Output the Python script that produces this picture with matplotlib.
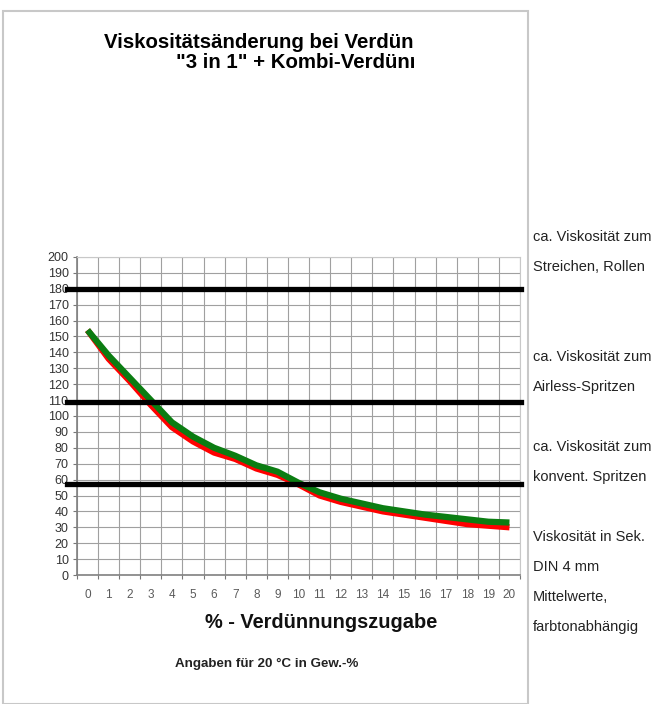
import numpy as np
import matplotlib
matplotlib.use('Agg')
import matplotlib.pyplot as plt
from matplotlib.patches import Rectangle
from matplotlib.transforms import Bbox, TransformedBbox

plt.rcParams['font.family'] = ['Liberation Sans', 'DejaVu Sans']

# Verdünnungszugabe in %
zugabe = list(range(21))
x_labels = [str(v) for v in zugabe]

# Viskosität in Sek. (DIN 4 mm)
visk_rot = [154, 136, 122, 107, 93, 84, 77, 73, 67, 63, 57, 50, 46, 43, 40, 38, 36, 34, 32, 31, 30]
visk_gruen = [154, 138, 124, 110, 96, 87, 80, 75, 69, 65, 58, 52, 48, 45, 42, 40, 38, 36.5, 35, 33.5, 33]

# Richtwerte (schwarze Linien)
richtwerte = [180, 109, 57]

y_ticks = list(range(0, 201, 10))

rechts_texte = [
    ('ca. Viskosität zum', 237), ('Streichen, Rollen', 267),
    ('ca. Viskosität zum', 357), ('Airless-Spritzen', 387),
    ('ca. Viskosität zum', 447), ('konvent. Spritzen', 477),
    ('Viskosität in Sek.', 537), ('DIN 4 mm', 567),
    ('Mittelwerte,', 597), ('farbtonabhängig', 627),
]

W, H = 657, 704
fig = plt.figure(figsize=(W / 100, H / 100), dpi=100)

def px(x, y):
    return x / W, 1 - y / H

# Rahmen um das Diagramm
fig.patches.append(Rectangle(px(3, 704), 525 / W, 693 / H, transform=fig.transFigure,
                             fill=False, edgecolor='#c8c8c8', linewidth=1.5))

ax = fig.add_axes([77 / W, 1 - 575 / H, 443 / W, 318 / H])
ax.set_xlim(-0.5, 20.5)
ax.set_ylim(0, 200)

ax.set_xticks(np.arange(-0.5, 21, 1))
ax.set_xticklabels([])
ax.set_xticks(zugabe, minor=True)
ax.set_xticklabels(x_labels, minor=True)
ax.tick_params(axis='x', which='minor', length=0, pad=10, labelsize=8.5, labelcolor='#5a5a5a')
ax.tick_params(axis='x', which='major', length=3, color='#777777')
ax.set_yticks(y_ticks)
ax.set_yticklabels([str(v) for v in y_ticks])
ax.tick_params(axis='y', length=3, pad=3, labelsize=9, labelcolor='#333333', color='#777777')

ax.grid(True, which='major', color='#a0a0a0', linewidth=0.8)
ax.set_axisbelow(True)
for s in ['top', 'right']:
    ax.spines[s].set_color('#c8c8c8')
for s in ['left', 'bottom']:
    ax.spines[s].set_color('#808080')
    ax.spines[s].set_linewidth(1.2)

ax.plot(zugabe, visk_rot, color='#ff0000', linewidth=4.5, solid_capstyle='butt', zorder=3)
ax.plot(zugabe, visk_gruen, color='#0b7d12', linewidth=4.5, solid_capstyle='butt', zorder=4)

for r in richtwerte:
    ax.plot([-0.023, 1.003], [r, r], transform=ax.get_yaxis_transform(), color='black',
            linewidth=3.8, clip_on=False, zorder=5)

# Titel (rechts abgeschnitten wie im Original)
clip = TransformedBbox(Bbox([[0, 0], [414 / W, 1]]), fig.transFigure)
t1 = fig.text(*px(413, 43), 'Viskositätsänderung bei Verdün', fontsize=14.7,
              fontweight='bold', ha='right', va='center')
t2 = fig.text(*px(422, 62), '"3 in 1" + Kombi-Verdünn', fontsize=14.7,
              fontweight='bold', ha='right', va='center')
for t in (t1, t2):
    t.set_clip_on(True)
    t.set_clip_box(clip)

fig.text(*px(321, 622), '% - Verdünnungszugabe', fontsize=14.4, fontweight='bold',
         ha='center', va='center', color='#111111')
fig.text(*px(267, 664), 'Angaben für 20 °C in Gew.-%', fontsize=9.6, fontweight='bold',
         ha='center', va='center', color='#222222')

for txt, y in rechts_texte:
    fig.text(*px(533, y), txt, fontsize=10.5, ha='left', va='center', color='#222222')

fig.savefig('out.png', dpi=100)
